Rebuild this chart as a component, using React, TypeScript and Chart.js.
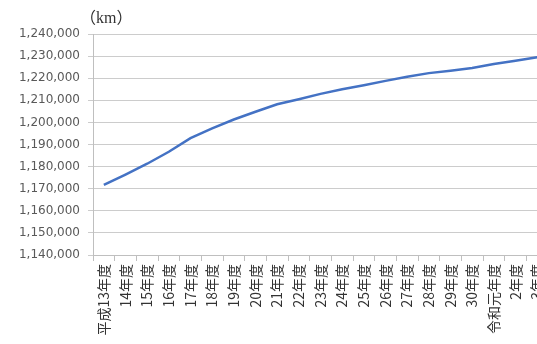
import React, { useEffect, useRef } from "react";
import { Chart, registerables } from "chart.js";

Chart.register(...registerables);

const categories: string[] = [
  "平成13年度", "14年度", "15年度", "16年度", "17年度", "18年度", "19年度",
  "20年度", "21年度", "22年度", "23年度", "24年度", "25年度", "26年度",
  "27年度", "28年度", "29年度", "30年度", "令和元年度", "2年度", "3年度",
];

const roadLength: number[] = [
  1171700, 1176400, 1181300, 1186700, 1192900, 1197300, 1201300,
  1204800, 1208200, 1210500, 1212900, 1215000, 1216800, 1218800,
  1220700, 1222300, 1223400, 1224600, 1226400, 1227900, 1229500,
];

const yMin = 1140000;
const yMax = 1240000;
const yStep = 10000;
const unitLabel = "（km）";

export default function App() {
  const ref = useRef<HTMLCanvasElement | null>(null);

  useEffect(() => {
    if (!ref.current) return;
    const unitPlugin = {
      id: "unitLabel",
      afterDraw(chart: any) {
        const ctx = chart.ctx;
        ctx.save();
        ctx.fillStyle = "#333333";
        ctx.font = "16px 'Liberation Serif', 'Noto Sans CJK JP', serif";
        ctx.textBaseline = "alphabetic";
        ctx.textAlign = "left";
        ctx.fillText(unitLabel, 80, 23);
        ctx.restore();
      },
    };
    const chart = new Chart(ref.current, {
      type: "line",
      data: {
        labels: categories,
        datasets: [
          {
            data: roadLength,
            borderColor: "#4472C4",
            backgroundColor: "#4472C4",
            borderWidth: 2.5,
            pointRadius: 0,
            tension: 0,
            fill: false,
          },
        ],
      },
      options: {
        responsive: false,
        animation: false,
        devicePixelRatio: 1,
        layout: { padding: { top: 34, left: 0, right: 12, bottom: 0 } },
        plugins: {
          legend: { display: false },
          tooltip: { enabled: false },
        },
        scales: {
          x: {
            offset: true,
            grid: {
              display: true,
              offset: true,
              drawOnChartArea: false,
              drawTicks: true,
              tickLength: 6,
              color: "#bfbfbf",
            },
            border: { display: true, color: "#bfbfbf", width: 1 },
            ticks: {
              autoSkip: false,
              minRotation: 90,
              maxRotation: 90,
              padding: 3,
              color: "#333333",
              font: { family: "'Noto Sans CJK JP'", size: 14 },
            },
            afterFit: (s: any) => {
              s.height = 89;
            },
          },
          y: {
            min: yMin,
            max: yMax,
            grid: {
              color: "#cccccc",
              lineWidth: 1,
              drawTicks: true,
              tickLength: 5,
            },
            border: { display: true, color: "#bfbfbf", width: 1 },
            ticks: {
              stepSize: yStep,
              padding: 8,
              color: "#595959",
              font: { family: "'DejaVu Sans'", size: 12 },
              callback: (v: any) => Number(v).toLocaleString("en-US"),
            },
            afterFit: (s: any) => {
              s.width = 93;
            },
          },
        },
      },
      plugins: [unitPlugin],
    });
    return () => chart.destroy();
  }, []);

  return (
    <div
      style={{
        position: "absolute",
        left: 0,
        top: 0,
        width: 537,
        height: 344,
        overflow: "hidden",
        background: "#ffffff",
      }}
    >
      <canvas
        ref={ref}
        width={560}
        height={344}
        style={{ display: "block", width: 560, height: 344 }}
      />
    </div>
  );
}
